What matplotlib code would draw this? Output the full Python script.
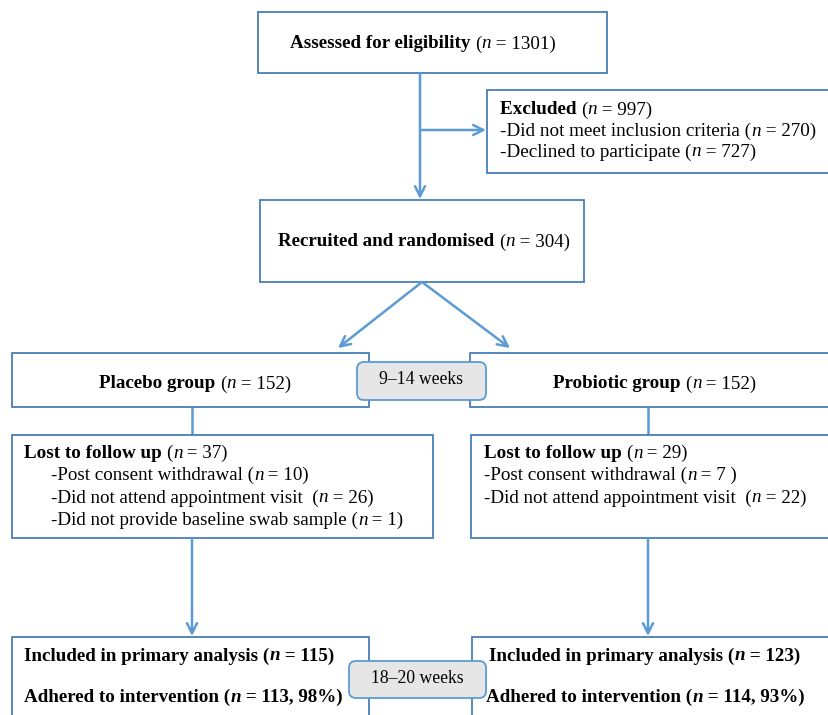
import matplotlib; matplotlib.use("Agg")
import matplotlib.pyplot as plt
from matplotlib.patches import Rectangle, FancyBboxPatch

plt.rcParams["font.family"] = ["Liberation Serif", "DejaVu Serif"]

# text content: each entry is a list of (text, weight, style) pieces
B, R = "bold", "normal"
assessed = [("Assessed for eligibility ", B, R), ("(", R, R), ("n", R, "italic"), (" = 1301)", R, R)]
excluded = [
    [("Excluded ", B, R), ("(", R, R), ("n", R, "italic"), (" = 997)", R, R)],
    [("-Did not meet inclusion criteria (", R, R), ("n", R, "italic"), (" = 270)", R, R)],
    [("-Declined to participate (", R, R), ("n", R, "italic"), (" = 727)", R, R)],
]
recruited = [("Recruited and randomised ", B, R), ("(", R, R), ("n", R, "italic"), (" = 304)", R, R)]
placebo = [("Placebo group ", B, R), ("(", R, R), ("n", R, "italic"), (" = 152)", R, R)]
probiotic = [("Probiotic group ", B, R), ("(", R, R), ("n", R, "italic"), (" = 152)", R, R)]
lost_placebo = [
    [("Lost to follow up ", B, R), ("(", R, R), ("n", R, "italic"), (" = 37)", R, R)],
    [("-Post consent withdrawal (", R, R), ("n", R, "italic"), (" = 10)", R, R)],
    [("-Did not attend appointment visit  (", R, R), ("n", R, "italic"), (" = 26)", R, R)],
    [("-Did not provide baseline swab sample (", R, R), ("n", R, "italic"), (" = 1)", R, R)],
]
lost_probiotic = [
    [("Lost to follow up ", B, R), ("(", R, R), ("n", R, "italic"), (" = 29)", R, R)],
    [("-Post consent withdrawal (", R, R), ("n", R, "italic"), (" = 7 )", R, R)],
    [("-Did not attend appointment visit  (", R, R), ("n", R, "italic"), (" = 22)", R, R)],
]
incl_placebo = [
    [("Included in primary analysis (", B, R), ("n", B, "italic"), (" = 115)", B, R)],
    [("Adhered to intervention (", B, R), ("n", B, "italic"), (" = 113, 98%)", B, R)],
]
incl_probiotic = [
    [("Included in primary analysis (", B, R), ("n", B, "italic"), (" = 123)", B, R)],
    [("Adhered to intervention (", B, R), ("n", B, "italic"), (" = 114, 93%)", B, R)],
]
period1 = "9\u201314 weeks"
period2 = "18\u201320 weeks"

BORDER = "#4a7ebb"
LINE = "#5b9bd5"
W, H = 829, 715
FS = 13.7

fig = plt.figure(figsize=(W / 100, H / 100), dpi=100)
ax = fig.add_axes([0, 0, 1, 1])
ax.set_xlim(0, W); ax.set_ylim(H, 0); ax.axis("off")
renderer = fig.canvas.get_renderer()


def box(x0, y0, x1, y1):
    ax.add_patch(Rectangle((x0, y0), x1 - x0, y1 - y0, fill=True, fc="white",
                           ec=BORDER, lw=1.3, zorder=2))


def rich(x, y, parts, size=FS, ha="left"):
    texts, widths = [], []
    for s, w, st in parts:
        t = ax.text(x, y, s, fontsize=size, fontweight=w, fontstyle=st,
                    va="center", ha="left", zorder=5)
        bb = t.get_window_extent(renderer)
        texts.append(t); widths.append(bb.width)
    total = sum(widths)
    cx = x - total / 2 if ha == "center" else x
    for t, wd in zip(texts, widths):
        t.set_x(cx); cx += wd


def arrow(x0, y0, x1, y1):
    ax.annotate("", xy=(x1, y1), xytext=(x0, y0),
                arrowprops=dict(arrowstyle="->", color=LINE, lw=1.8,
                                mutation_scale=18, shrinkA=0, shrinkB=0), zorder=3)


def line(xs, ys):
    ax.plot(xs, ys, color=LINE, lw=1.8, zorder=1, solid_capstyle="butt")


# connectors
arrow(420, 73, 420, 199)
arrow(420, 130, 486, 130)
arrow(422, 282, 338, 348)
arrow(422, 282, 510, 348)
line([192, 192], [407, 435]); line([648, 648], [407, 435])
arrow(192, 538, 192, 636); arrow(648, 538, 648, 636)

# boxes
box(258, 12, 607, 73)
rich(423, 44, assessed, ha="center")
box(487, 90, 840, 173)
for i, p in enumerate(excluded):
    rich(500, 110 + 21 * i, p, 13.8)
box(260, 200, 584, 282)
rich(424, 242, recruited, ha="center")

box(12, 353, 369, 407)
rich(195, 384, placebo, ha="center")
box(470, 353, 840, 407)
rich(655, 384, probiotic, ha="center")

box(12, 435, 433, 538)
for i, p in enumerate(lost_placebo):
    rich(24 if i == 0 else 51, 453 + 22.5 * i, p)
box(471, 435, 840, 538)
for i, p in enumerate(lost_probiotic):
    rich(484, 453 + 22.5 * i, p)

box(12, 637, 369, 730)
rich(24, 656, incl_placebo[0])
rich(24, 697, incl_placebo[1])
box(472, 637, 840, 730)
rich(489, 656, incl_probiotic[0])
rich(486, 697, incl_probiotic[1])

for (x0, y0, x1, y1, lab) in [(357, 362, 486, 400, period1), (349, 661, 486, 698, period2)]:
    ax.add_patch(FancyBboxPatch((x0, y0), x1 - x0, y1 - y0,
                                boxstyle="round,pad=0,rounding_size=7",
                                fc="#e6e6e6", ec=LINE, lw=1.3, zorder=6))
    ax.text((x0 + x1) / 2, (y0 + y1) / 2 - 1, lab, fontsize=12.7, ha="center",
            va="center", zorder=7)

fig.savefig("out.png", dpi=100)
